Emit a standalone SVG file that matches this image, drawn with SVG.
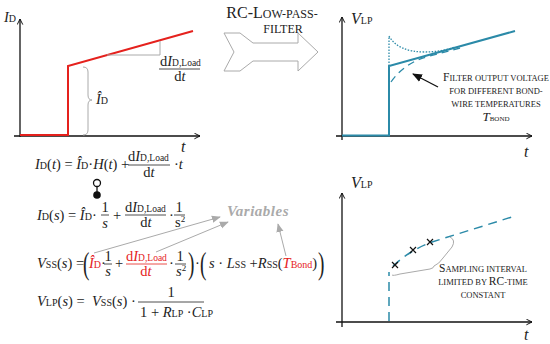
<svg xmlns="http://www.w3.org/2000/svg" width="550" height="344" viewBox="0 0 550 344">
<style>
text{font-family:"Liberation Serif","DejaVu Serif",serif;fill:#222}
.eq{font-size:14.5px}
.i{font-style:italic}
.s{font-size:10px}
.ss{font-size:9.5px}
.r{fill:#e5211d}
.cap{font-size:11.5px}
.sm{font-size:8.5px}
.ax{stroke:#111;stroke-width:1.3;fill:none}
.g{stroke:#aaa;stroke-width:1;fill:none}
.teal{stroke:#2b8aa8;fill:none}
.bar{stroke:#222;stroke-width:0.8}
</style>
<defs>
<marker id="ah" viewBox="0 0 10 10" refX="9" refY="5" markerWidth="7" markerHeight="7" orient="auto" markerUnits="userSpaceOnUse">
<path d="M1,1 L9,5 L1,9" fill="none" stroke="#111" stroke-width="1.4"/>
</marker>
<marker id="ga" viewBox="0 0 10 10" refX="9" refY="5" markerWidth="9" markerHeight="9" orient="auto" markerUnits="userSpaceOnUse">
<path d="M0,1 L10,5 L0,9 z" fill="#aaa"/>
</marker>
<marker id="ba" viewBox="0 0 10 10" refX="9" refY="5" markerWidth="10" markerHeight="10" orient="auto" markerUnits="userSpaceOnUse">
<path d="M0,1 L10,5 L0,9 z" fill="#111"/>
</marker>
</defs>

<g id="plot-id">
<line class="ax" x1="20" y1="137" x2="20" y2="19" marker-end="url(#ah)"/>
<line class="ax" x1="14" y1="136" x2="200" y2="136" marker-end="url(#ah)"/>
<polyline points="20,135 68,135 68,66 193,31" fill="none" stroke="#e5211d" stroke-width="2"/>
<polyline class="g" points="107,55 160,55 160,41"/>
<path class="g" d="M83,67 Q88,67 88,72 L88,95 Q88,100 92,100 Q88,100 88,105 L88,130 Q88,135 83,135"/>
<text x="4" y="22" class="eq"><tspan class="i">I</tspan><tspan class="s">D</tspan></text>
<text x="96" y="104" class="eq"><tspan class="i">Î</tspan><tspan class="s">D</tspan></text>
<text x="160" y="66" class="eq">d<tspan class="i">I</tspan><tspan class="ss">D,Load</tspan></text>
<line class="bar" x1="159" y1="69" x2="200" y2="69"/>
<text x="180" y="81" class="eq" text-anchor="middle">d<tspan class="i">t</tspan></text>
<text x="181" y="152" class="i" font-size="16">t</text>
</g>

<g id="filter-arrow">
<path d="M224,33 L240,33 L253,43 L298,43 L298,33 L318,52 L298,71 L298,61 L253,61 L240,71 L224,71 L234,52 Z" fill="#fff" stroke="#aaa" stroke-width="1"/>
<text x="272" y="18" text-anchor="middle" font-size="16">RC-L<tspan font-size="12">OW-PASS-</tspan></text>
<text x="283" y="33" text-anchor="middle" font-size="12">FILTER</text>
</g>

<g id="plot-vlp-top">
<line class="ax" x1="342" y1="140" x2="342" y2="17" marker-end="url(#ah)"/>
<line class="ax" x1="336" y1="136" x2="532" y2="136" marker-end="url(#ah)"/>
<polyline class="teal" stroke-width="2" points="342,135.5 389,135.5 389,66 515,31"/>
<path class="teal" stroke-width="1.3" stroke-dasharray="1.5,1.5" d="M389,66 L389,36 Q398,52 425,52 Q440,52 455,47"/>
<path class="teal" stroke-width="1.3" stroke-dasharray="7,5" d="M391,82 Q405,62 430,56 L460,48"/>
<line x1="438" y1="87" x2="413" y2="74" stroke="#111" stroke-width="1.3" marker-end="url(#ba)"/>
<text x="351" y="24" class="eq"><tspan class="i" font-size="16">V</tspan><tspan class="s">LP</tspan></text>
<text x="524" y="157" class="i" font-size="16">t</text>
<text text-anchor="middle"><tspan x="496" y="81" class="cap">F<tspan class="sm">ILTER OUTPUT VOLTAGE</tspan></tspan><tspan x="496" y="94" class="sm">FOR DIFFERENT BOND-</tspan><tspan x="496" y="107" class="sm">WIRE TEMPERATURES</tspan></text>
<text x="496" y="121" text-anchor="middle" class="eq"><tspan class="i" font-size="13">T</tspan><tspan font-size="7">BOND</tspan></text>
</g>

<g id="plot-vlp-bottom">
<line class="ax" x1="342" y1="327" x2="342" y2="193" marker-end="url(#ah)"/>
<line class="ax" x1="336" y1="322" x2="532" y2="322" marker-end="url(#ah)"/>
<line class="teal" stroke-width="1.5" stroke-dasharray="9,6" x1="389" y1="321" x2="389" y2="272"/>
<path class="teal" stroke-width="1.5" stroke-dasharray="9,6" d="M393,266 Q410,250 432,242 L515,216"/>
<g stroke="#111" stroke-width="1.2">
<path d="M392,262 l6,6 m0,-6 l-6,6"/>
<path d="M410,247 l6,6 m0,-6 l-6,6"/>
<path d="M427,239 l6,6 m0,-6 l-6,6"/>
</g>
<path class="g" d="M450,237 Q456,240 452,247 L443,258 Q439,264 434,266 Q434,268 430,269 L400,274 Q393,276 392,275"/>
<text x="351" y="188" class="eq"><tspan class="i" font-size="16">V</tspan><tspan class="s">LP</tspan></text>
<text x="524" y="340" class="i" font-size="16">t</text>
<text text-anchor="middle"><tspan x="483" y="272" class="cap">S<tspan class="sm">AMPLING INTERVAL</tspan></tspan><tspan x="483" y="285" class="sm">LIMITED BY <tspan class="cap">RC</tspan>-TIME</tspan><tspan x="483" y="298" class="sm">CONSTANT</tspan></text>
</g>

<g id="equations">
<text x="35" y="169" class="eq"><tspan class="i">I</tspan><tspan class="s">D</tspan>(<tspan class="i">t</tspan>) = <tspan class="i">Î</tspan><tspan class="s">D</tspan>·<tspan class="i">H</tspan>(<tspan class="i">t</tspan>) +</text>
<text x="128" y="161" class="eq">d<tspan class="i">I</tspan><tspan class="ss">D,Load</tspan></text>
<line class="bar" x1="128" y1="165" x2="170" y2="165"/>
<text x="149" y="177" class="eq" text-anchor="middle">d<tspan class="i">t</tspan></text>
<text x="174" y="169" class="eq">·<tspan class="i">t</tspan></text>

<circle cx="97" cy="183" r="3.5" fill="#fff" stroke="#111" stroke-width="1.3"/>
<line x1="97" y1="186.5" x2="97" y2="192" stroke="#111" stroke-width="1.3"/>
<circle cx="97" cy="195" r="3.8" fill="#111"/>

<text x="37" y="220" class="eq"><tspan class="i">I</tspan><tspan class="s">D</tspan>(<tspan class="i">s</tspan>) = <tspan class="i">Î</tspan><tspan class="s">D</tspan>·</text>
<text x="105" y="212" class="eq" text-anchor="middle">1</text>
<line class="bar" x1="101" y1="215" x2="109" y2="215"/>
<text x="105" y="228" class="eq" text-anchor="middle" font-style="italic">s</text>
<text x="113" y="220" class="eq">+</text>
<text x="125" y="212" class="eq">d<tspan class="i">I</tspan><tspan class="ss">D,Load</tspan></text>
<line class="bar" x1="125" y1="215" x2="166" y2="215"/>
<text x="146" y="227" class="eq" text-anchor="middle">d<tspan class="i">t</tspan></text>
<text x="169" y="220" class="eq">·</text>
<text x="179" y="212" class="eq" text-anchor="middle">1</text>
<line class="bar" x1="174" y1="215" x2="185" y2="215"/>
<text x="175" y="227" class="eq">s<tspan font-size="9" dy="-5">2</tspan></text>

<text x="227" y="216" font-size="15" font-style="italic" font-weight="bold" style="fill:#aaa;letter-spacing:0.5px">Variables</text>

<text x="37" y="268" class="eq"><tspan class="i">V</tspan><tspan class="s">SS</tspan>(<tspan class="i">s</tspan>) =</text>
<text x="83" y="274" font-size="32" transform="translate(83,274) scale(0.6,1) translate(-83,-274)">(</text>
<text x="89" y="268" class="eq r"><tspan class="i r">Î</tspan><tspan class="s r">D</tspan></text>
<text x="101" y="268" class="eq">·</text>
<text x="108" y="261" class="eq" text-anchor="middle">1</text>
<line class="bar" x1="104" y1="264" x2="112" y2="264"/>
<text x="108" y="276" class="eq i" text-anchor="middle">s</text>
<text x="115" y="268" class="eq">+</text>
<text x="126" y="261" class="eq r">d<tspan class="i r">I</tspan><tspan class="ss r">D,Load</tspan></text>
<line x1="126" y1="264" x2="167" y2="264" stroke="#e5211d" stroke-width="0.8"/>
<text x="146" y="276" class="eq r" text-anchor="middle">d<tspan class="i r">t</tspan></text>
<text x="169" y="268" class="eq">·</text>
<text x="180" y="261" class="eq" text-anchor="middle">1</text>
<line class="bar" x1="175" y1="264" x2="186" y2="264"/>
<text x="176" y="276" class="eq i">s<tspan font-size="9" dy="-5" font-style="normal">2</tspan></text>
<text x="188" y="274" font-size="32" transform="translate(188,274) scale(0.6,1) translate(-188,-274)">)</text>
<text x="195" y="268" class="eq">·</text>
<text x="200" y="274" font-size="32" transform="translate(200,274) scale(0.6,1) translate(-200,-274)">(</text>
<text x="209" y="268" class="eq"><tspan class="i">s</tspan> · <tspan class="i">L</tspan><tspan class="s">SS</tspan> +<tspan class="i">R</tspan><tspan class="s">SS</tspan>(<tspan class="i r">T</tspan><tspan class="s r">Bond</tspan>)</text>
<text x="318" y="274" font-size="32" transform="translate(318,274) scale(0.6,1) translate(-318,-274)">)</text>

<text x="37" y="306" class="eq"><tspan class="i">V</tspan><tspan class="s">LP</tspan>(<tspan class="i">s</tspan>) =</text>
<text x="92" y="306" class="eq"><tspan class="i">V</tspan><tspan class="s">SS</tspan>(<tspan class="i">s</tspan>) ·</text>
<text x="171" y="297" class="eq" text-anchor="middle">1</text>
<line class="bar" x1="138" y1="302" x2="204" y2="302"/>
<text x="140" y="317" class="eq">1 + <tspan class="i">R</tspan><tspan class="s">LP</tspan> ·<tspan class="i">C</tspan><tspan class="s">LP</tspan></text>
</g>

<g id="connectors">
<line class="g" x1="94" y1="253" x2="220" y2="217" marker-end="url(#ga)"/>
<line class="g" x1="156" y1="252" x2="228" y2="222" marker-end="url(#ga)"/>
<line class="g" x1="286" y1="256" x2="278" y2="224" marker-end="url(#ga)"/>
</g>
</svg>
